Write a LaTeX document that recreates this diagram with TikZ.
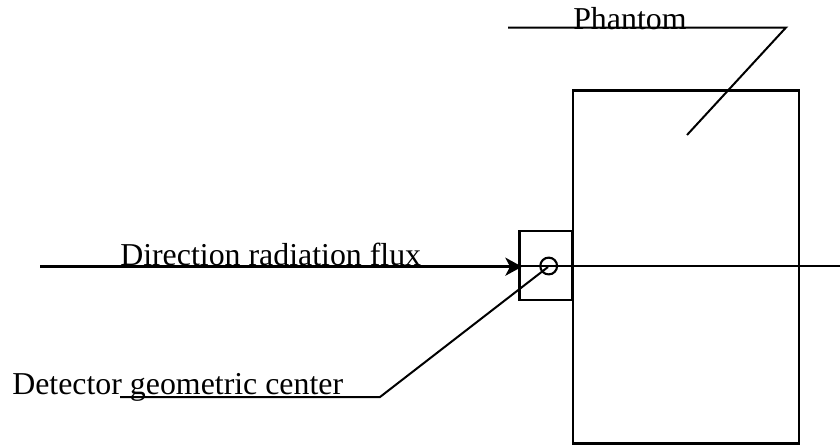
\documentclass[tikz,border=0pt]{standalone}
\usepackage{fontspec}
\setmainfont{Liberation Serif}
\usetikzlibrary{arrows.meta}
\tikzset{
  px/.style={x=0.75pt,y=-0.75pt},
  body/.style={draw=black,line width=2.1pt,fill=none,rectangle,inner sep=0pt,outer sep=0pt,minimum width=169.5pt,minimum height=264.6pt},
  cell/.style={draw=black,line width=1.9pt,fill=none,rectangle,inner sep=0pt,outer sep=0pt,minimum width=39.9pt,minimum height=51.6pt},
  centre/.style={draw=black,line width=1.6pt,fill=none,circle,inner sep=0pt,outer sep=0pt,minimum size=12.6pt},
  leader/.style={draw=black,line width=1.5pt,line cap=butt,line join=miter},
  axisthin/.style={draw=black,line width=1.6pt},
  axisthick/.style={draw=black,line width=2.2pt},
  label/.style={anchor=base west,inner sep=0pt,font=\fontsize{23.9pt}{28pt}\selectfont,text=black},
}
\begin{document}
\begin{tikzpicture}[px]
\useasboundingbox (0,0) rectangle (840,447);
\coordinate (axisL) at (40,266.7);
\coordinate (axisR) at (840,265.7);
\coordinate (pL) at (508,27.5);
\coordinate (pK) at (786,27.5);
\coordinate (pE) at (687,135);
\coordinate (dL) at (120,397);
\coordinate (dK) at (380,397);
\coordinate (cE) at (548,267);
\node[body] (phantom) at (686,266.7) {};
\node[cell] (detector) at (546,265.6) {};
\node[centre] (center) at (548.7,266) {};
\coordinate (tip) at (axisL -| detector.west);
\coordinate (axisM) at (axisR -| detector.west);
\draw[axisthin] (axisM) -- (axisR);
\draw[axisthick,-{Stealth[length=12.5pt,width=13.5pt,inset=3.5pt]},shorten >=-2pt] (axisL) -- (tip);
\draw[leader] (pL) -- (pK) -- (pE);
\draw[leader] (dL) -- (dK) -- (cE);
\node[label] (t1) at (573,29) {Phantom};
\node[label] (t2) at (120,265) {Direction radiation flux};
\node[label] (t3) at (12,394) {Detector geometric center};
\end{tikzpicture}
\end{document}
